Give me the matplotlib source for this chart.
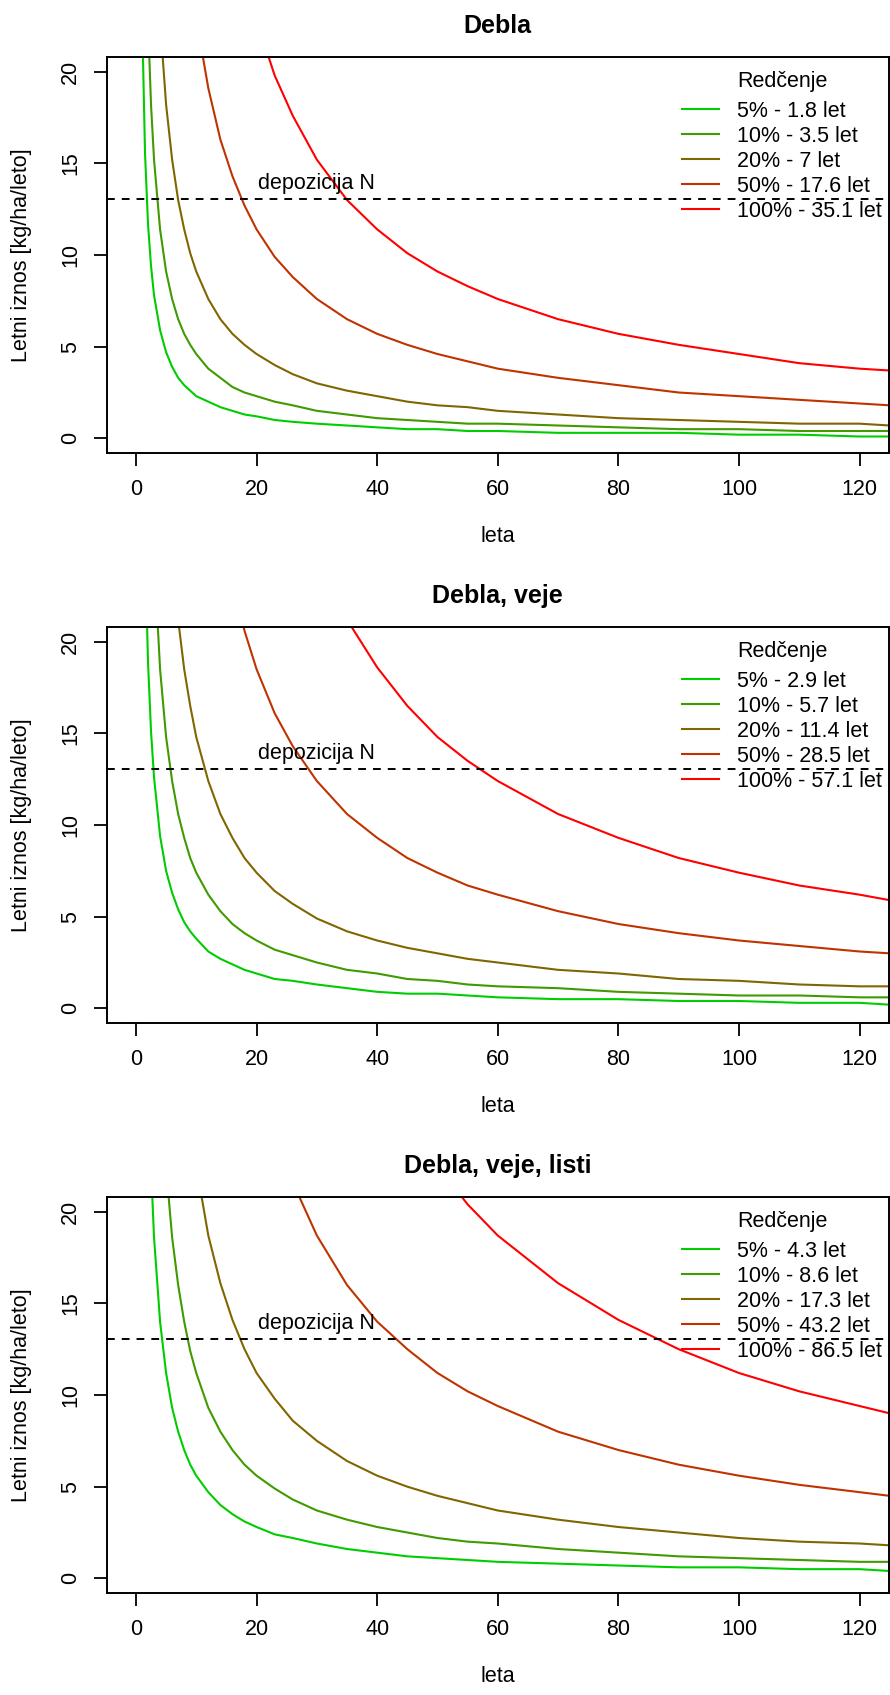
import numpy as np
import matplotlib
matplotlib.use("Agg")
import matplotlib.pyplot as plt


FIG_W = 890
FIG_H = 1695
DPI = 100

DEPOSITION = 13.05

YEARS = [1, 1.5, 2, 2.5, 3, 4, 5, 6, 7, 8, 9, 10, 12, 14, 16, 18, 20, 23, 26,
         30, 35, 40, 45, 50, 55, 60, 70, 80, 90, 100, 110, 120, 125]

TITLES = ["Debla", "Debla, veje", "Debla, veje, listi"]
THINNING = ["5%", "10%", "20%", "50%", "100%"]
COLOURS = ["#00CD00", "#409A00", "#806600", "#BF3300", "#FF0000"]

# years until removal equals deposition, read from the legends
BALANCE_YEARS = [
    ["1.8", "3.5", "7", "17.6", "35.1"],
    ["2.9", "5.7", "11.4", "28.5", "57.1"],
    ["4.3", "8.6", "17.3", "43.2", "86.5"],
]

# annual removal [kg/ha/leto] at YEARS
debla = [
    [23.4, 15.6, 11.7, 9.4, 7.8, 5.9, 4.7, 3.9, 3.3, 2.9, 2.6, 2.3, 2.0, 1.7, 1.5, 1.3, 1.2,
     1.0, 0.9, 0.8, 0.7, 0.6, 0.5, 0.5, 0.4, 0.4, 0.3, 0.3, 0.3, 0.2, 0.2, 0.1, 0.1],
    [45.5, 30.3, 22.8, 18.2, 15.2, 11.4, 9.1, 7.6, 6.5, 5.7, 5.1, 4.6, 3.8, 3.3, 2.8, 2.5, 2.3,
     2.0, 1.8, 1.5, 1.3, 1.1, 1.0, 0.9, 0.8, 0.8, 0.7, 0.6, 0.5, 0.5, 0.4, 0.4, 0.4],
    [91.0, 60.7, 45.5, 36.4, 30.3, 22.8, 18.2, 15.2, 13.0, 11.4, 10.1, 9.1, 7.6, 6.5, 5.7, 5.1, 4.6,
     4.0, 3.5, 3.0, 2.6, 2.3, 2.0, 1.8, 1.7, 1.5, 1.3, 1.1, 1.0, 0.9, 0.8, 0.8, 0.7],
    [228.8, 152.5, 114.4, 91.5, 76.3, 57.2, 45.8, 38.1, 32.7, 28.6, 25.4, 22.9, 19.1, 16.3, 14.3, 12.7, 11.4,
     9.9, 8.8, 7.6, 6.5, 5.7, 5.1, 4.6, 4.2, 3.8, 3.3, 2.9, 2.5, 2.3, 2.1, 1.9, 1.8],
    [456.0, 304.0, 228.0, 183.0, 152.0, 114.0, 91.0, 76.0, 65.2, 57.0, 50.7, 45.6, 38.0, 32.6, 28.5, 25.4, 22.8,
     19.8, 17.6, 15.2, 13.0, 11.4, 10.1, 9.1, 8.3, 7.6, 6.5, 5.7, 5.1, 4.6, 4.1, 3.8, 3.7],
]

debla_veje = [
    [37.7, 25.1, 18.9, 15.1, 12.6, 9.4, 7.5, 6.3, 5.4, 4.7, 4.2, 3.8, 3.1, 2.7, 2.4, 2.1, 1.9,
     1.6, 1.5, 1.3, 1.1, 0.9, 0.8, 0.8, 0.7, 0.6, 0.5, 0.5, 0.4, 0.4, 0.3, 0.3, 0.2],
    [74.1, 49.4, 37.1, 29.6, 24.7, 18.5, 14.8, 12.4, 10.6, 9.3, 8.2, 7.4, 6.2, 5.3, 4.6, 4.1, 3.7,
     3.2, 2.9, 2.5, 2.1, 1.9, 1.6, 1.5, 1.3, 1.2, 1.1, 0.9, 0.8, 0.7, 0.7, 0.6, 0.6],
    [148.0, 98.8, 74.1, 59.3, 49.4, 37.1, 29.6, 24.7, 21.2, 18.5, 16.5, 14.8, 12.4, 10.6, 9.3, 8.2, 7.4,
     6.4, 5.7, 4.9, 4.2, 3.7, 3.3, 3.0, 2.7, 2.5, 2.1, 1.9, 1.6, 1.5, 1.3, 1.2, 1.2],
    [370.0, 247.0, 185.0, 148.0, 124.0, 92.6, 74.1, 61.8, 52.9, 46.3, 41.2, 37.1, 30.9, 26.5, 23.2, 20.6, 18.5,
     16.1, 14.3, 12.4, 10.6, 9.3, 8.2, 7.4, 6.7, 6.2, 5.3, 4.6, 4.1, 3.7, 3.4, 3.1, 3.0],
    [742.0, 495.0, 371.0, 297.0, 247.0, 186.0, 148.0, 124.0, 106.0, 92.8, 82.5, 74.2, 61.9, 53.0, 46.4, 41.2, 37.1,
     32.3, 28.6, 24.7, 21.2, 18.6, 16.5, 14.8, 13.5, 12.4, 10.6, 9.3, 8.2, 7.4, 6.7, 6.2, 5.9],
]

debla_veje_listi = [
    [55.9, 37.3, 28.0, 22.4, 18.6, 14.0, 11.2, 9.3, 8.0, 7.0, 6.2, 5.6, 4.7, 4.0, 3.5, 3.1, 2.8,
     2.4, 2.2, 1.9, 1.6, 1.4, 1.2, 1.1, 1.0, 0.9, 0.8, 0.7, 0.6, 0.6, 0.5, 0.5, 0.4],
    [112.0, 74.5, 55.9, 44.7, 37.3, 28.0, 22.4, 18.6, 16.0, 14.0, 12.4, 11.2, 9.3, 8.0, 7.0, 6.2, 5.6,
     4.9, 4.3, 3.7, 3.2, 2.8, 2.5, 2.2, 2.0, 1.9, 1.6, 1.4, 1.2, 1.1, 1.0, 0.9, 0.9],
    [225.0, 150.0, 112.0, 90.0, 75.0, 56.2, 45.0, 37.5, 32.1, 28.1, 25.0, 22.5, 18.7, 16.1, 14.1, 12.5, 11.2,
     9.8, 8.6, 7.5, 6.4, 5.6, 5.0, 4.5, 4.1, 3.7, 3.2, 2.8, 2.5, 2.2, 2.0, 1.9, 1.8],
    [562.0, 374.0, 281.0, 225.0, 187.0, 140.0, 112.0, 93.6, 80.2, 70.2, 62.4, 56.2, 46.8, 40.1, 35.1, 31.2, 28.1,
     24.4, 21.6, 18.7, 16.0, 14.0, 12.5, 11.2, 10.2, 9.4, 8.0, 7.0, 6.2, 5.6, 5.1, 4.7, 4.5],
    [1124.0, 750.0, 562.0, 450.0, 375.0, 281.0, 225.0, 187.0, 161.0, 141.0, 125.0, 112.0, 93.7, 80.3, 70.3, 62.5, 56.2,
     48.9, 43.2, 37.5, 32.1, 28.1, 25.0, 22.5, 20.4, 18.7, 16.1, 14.1, 12.5, 11.2, 10.2, 9.4, 9.0],
]

PANELS = [debla, debla_veje, debla_veje_listi]

FONT = "Liberation Sans"
FS = 15.5


def plot_panel(ax, title, curves, balance):
    for i, values in enumerate(curves):
        label = "{} - {} let".format(THINNING[i], balance[i])
        ax.plot(YEARS, values, color=COLOURS[i], lw=1.5, label=label)

    ax.axhline(DEPOSITION, color="black", lw=1.4, linestyle=(0, (4, 3.6)))
    ax.annotate("depozicija N", xy=(30, DEPOSITION), xytext=(0, 11), textcoords="offset points",
                ha="center", va="center", fontsize=FS)

    ax.set_xlim(-4.8, 124.8)
    ax.set_ylim(-0.8, 20.8)
    ax.set_xticks(np.arange(0, 121, 20))
    ax.set_yticks([0, 5, 10, 15, 20])
    ax.tick_params(direction="out", length=9.5, width=1.3, labelsize=FS, pad=9)
    ax.tick_params(axis="y", labelrotation=90)
    plt.setp(ax.get_yticklabels(), va="center")
    for spine in ax.spines.values():
        spine.set_linewidth(1.4)

    ax.set_title(title, fontsize=18, fontweight="bold", pad=17)
    ax.set_xlabel("leta", fontsize=FS)
    ax.set_ylabel("Letni iznos [kg/ha/leto]", fontsize=FS)
    ax.xaxis.label.set_va("center")
    ax.yaxis.label.set_va("center")
    ax.xaxis.set_label_coords(0.5, -84 / 396)
    ax.yaxis.set_label_coords(-85 / 781.5, 0.5)

    leg = ax.legend(title="Redčenje", frameon=False, loc="upper right",
                    bbox_to_anchor=(1.0 + 2 / 781.5, 1.0 - 5 / 396), borderaxespad=0.0,
                    fontsize=FS, title_fontsize=FS, handlelength=1.7,
                    handletextpad=0.85, labelspacing=0.19)
    # R puts a bit more room under the legend title
    leg._legend_box.sep = 6.5


def main():
    plt.rcParams["font.family"] = [FONT, "DejaVu Sans"]
    fig = plt.figure(figsize=(FIG_W / DPI, FIG_H / DPI), dpi=DPI)

    left = 107
    right = 888.5
    for i in range(3):
        top = 57 + 570 * i
        bottom = 453 + 570 * i
        ax = fig.add_axes([left / FIG_W, 1 - bottom / FIG_H,
                           (right - left) / FIG_W, (bottom - top) / FIG_H])
        plot_panel(ax, TITLES[i], PANELS[i], BALANCE_YEARS[i])

    fig.savefig("out.png", dpi=DPI)


if __name__ == "__main__":
    main()
